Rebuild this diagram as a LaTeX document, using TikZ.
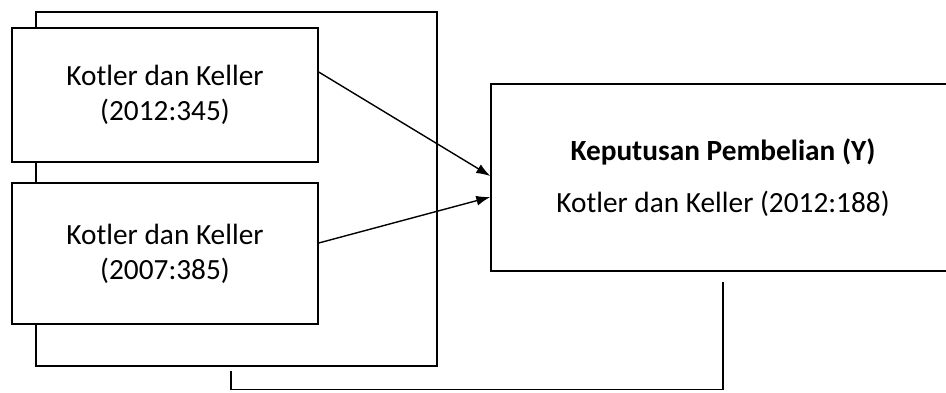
\documentclass[tikz,border=0pt]{standalone}
\usepackage{fontspec}
\setmainfont{Carlito}
\usetikzlibrary{arrows.meta}
\begin{document}
\begin{tikzpicture}[x=1pt,y=-1pt,
  line width=1.4pt,
  frameline/.style={draw, line width=1.2pt, minimum width=401pt, minimum height=354pt, inner sep=0pt},
  refbox/.style={draw, fill=white, inner sep=0pt, align=center,
    font=\fontsize{29.3}{35}\selectfont},
  arr/.style={-{Latex[length=14pt,width=10pt]}}]
  \useasboundingbox (0,0) rectangle (946,392);
  % surrounding frame grouping the two sources
  \node[frameline] (frame) at (236.5,189) {};
  % source boxes
  \node[refbox, minimum width=306pt, minimum height=134pt] (b1) at (165,95)
    {Kotler dan Keller\\(2012:345)};
  \node[refbox, minimum width=306pt, minimum height=141pt] (b2) at (165,253.5)
    {Kotler dan Keller\\(2007:385)};
  % target box
  \node[refbox, minimum width=464pt, minimum height=187pt,
        font=\fontsize{29.3}{52}\selectfont] (yb) at (723,177.5)
    {\textbf{Keputusan Pembelian (Y)}\\Kotler dan Keller (2012:188)};
  % arrows into the target
  \draw[arr] ([yshift=23pt]b1.east) -- ([yshift=1.5pt]yb.west);
  \draw[arr] ([yshift=10.5pt]b2.east) -- ([yshift=-19.5pt]yb.west);
  % feedback line under the diagram
  \draw ([yshift=-10pt]yb.south) -- ++(0,108) -| ([xshift=-5.5pt,yshift=-4pt]frame.south);
\end{tikzpicture}
\end{document}
